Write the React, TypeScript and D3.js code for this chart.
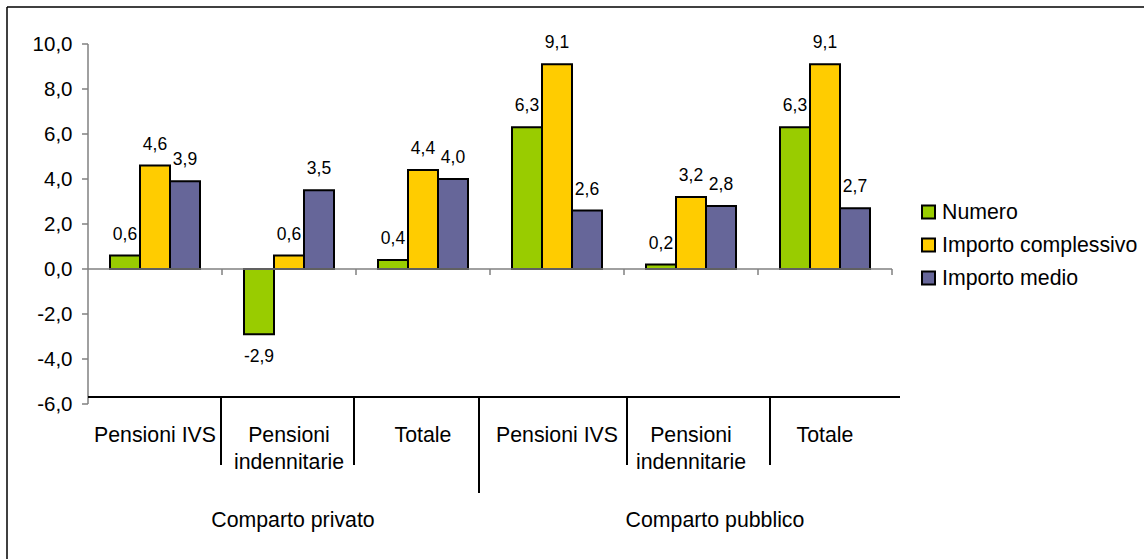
import React from "react";
import * as d3 from "d3";

const categories = ["Pensioni IVS", "Pensioni indennitarie", "Totale", "Pensioni IVS", "Pensioni indennitarie", "Totale"];
const categoryLines = [["Pensioni IVS"], ["Pensioni", "indennitarie"], ["Totale"], ["Pensioni IVS"], ["Pensioni", "indennitarie"], ["Totale"]];
const groups = ["Comparto privato", "Comparto pubblico"];
const seriesNames = ["Numero", "Importo complessivo", "Importo medio"];
const numero = [0.6, -2.9, 0.4, 6.3, 0.2, 6.3];
const importoComplessivo = [4.6, 0.6, 4.4, 9.1, 3.2, 9.1];
const importoMedio = [3.9, 3.5, 4.0, 2.6, 2.8, 2.7];
const yTicks = [-6, -4, -2, 0, 2, 4, 6, 8, 10];

const colors = ["#99CC00", "#FFCC00", "#666699"];
const FONT = "'Liberation Sans', Arial, sans-serif";

// layout of Excel-style multi-level label table
const shortSeparators = [221, 354, 627, 770];
const longSeparators = [479];
const groupCenters = [293, 715];

export default function App() {
  const W = 1144, H = 559;
  const x0 = 88, x1 = 892;
  const y = d3.scaleLinear().domain([-6, 10]).range([404, 44]);
  const x = d3.scaleBand<number>().domain(categories.map((_, i) => i)).range([x0, x1]).padding(0);
  const inner = d3.scaleBand<number>().domain([0, 1, 2]).range([22, x.bandwidth() - 22]).padding(0);
  const series = [numero, importoComplessivo, importoMedio];
  const fmt = (v: number) => v.toFixed(1).replace(".", ",");
  const zero = y(0);

  return (
    <div style={{ position: "absolute", left: 0, top: 0 }}>
      <svg width={W} height={H} style={{ display: "block" }} fontFamily={FONT}>
        <rect x={0} y={0} width={W} height={H} fill="#fff" />
        {/* outer border (top & left visible) */}
        <line x1={7} y1={7} x2={W} y2={7} stroke="#000" strokeWidth={1.5} />
        <line x1={7} y1={7} x2={7} y2={H} stroke="#000" strokeWidth={1.5} />

        {/* y axis */}
        <line x1={x0} y1={y(10)} x2={x0} y2={y(-6)} stroke="#808080" strokeWidth={1.5} />
        {yTicks.map((t) => (
          <g key={t}>
            <line x1={x0 - 6} x2={x0} y1={y(t)} y2={y(t)} stroke="#808080" strokeWidth={1.5} />
            <text x={72.5} y={y(t)} dy="0.35em" textAnchor="end" fontSize={20.5} fill="#000">
              {fmt(t)}
            </text>
          </g>
        ))}

        {/* bars */}
        {series.map((vals, s) =>
          vals.map((v, i) => {
            const bx = (x(i) as number) + (inner(s) as number);
            const top = Math.min(y(v), zero);
            const h = Math.abs(y(v) - zero);
            return (
              <rect key={`${s}-${i}`} x={bx} y={top} width={inner.bandwidth()} height={h}
                fill={colors[s]} stroke="#000" strokeWidth={2} />
            );
          })
        )}

        {/* category axis at zero */}
        <line x1={x0} x2={x1} y1={zero} y2={zero} stroke="#808080" strokeWidth={1.5} />
        {categories.map((_, i) => (
          <line key={i} x1={(x(i) as number) + x.bandwidth()} x2={(x(i) as number) + x.bandwidth()}
            y1={zero} y2={zero + 6} stroke="#808080" strokeWidth={1.5} />
        ))}

        {/* data labels */}
        {series.map((vals, s) =>
          vals.map((v, i) => {
            const cx = (x(i) as number) + (inner(s) as number) + inner.bandwidth() / 2;
            const ly = v >= 0 ? y(v) - 16 : y(v) + 28;
            return (
              <text key={`l${s}-${i}`} x={cx} y={ly} textAnchor="middle" fontSize={17.5} fill="#000">
                {fmt(v)}
              </text>
            );
          })
        )}

        {/* label table */}
        <line x1={x0} x2={900} y1={397} y2={397} stroke="#000" strokeWidth={2} />
        {shortSeparators.map((sx) => (
          <line key={sx} x1={sx} x2={sx} y1={397} y2={465} stroke="#000" strokeWidth={2} />
        ))}
        {longSeparators.map((sx) => (
          <line key={sx} x1={sx} x2={sx} y1={397} y2={493} stroke="#000" strokeWidth={2} />
        ))}
        {categoryLines.map((lines, i) => (
          <text key={`c${i}`} x={(x(i) as number) + x.bandwidth() / 2} y={442} textAnchor="middle" fontSize={21.3} fill="#000">
            {lines.map((ln, k) => (
              <tspan key={k} x={(x(i) as number) + x.bandwidth() / 2} dy={k === 0 ? 0 : 27}>{ln}</tspan>
            ))}
          </text>
        ))}
        {groups.map((g, i) => (
          <text key={g} x={groupCenters[i]} y={527} textAnchor="middle" fontSize={21.3} fill="#000">{g}</text>
        ))}

        {/* legend */}
        {seriesNames.map((n, i) => (
          <g key={n} transform={`translate(922, ${212 + i * 33})`}>
            <rect x={0} y={-6.5} width={13} height={13} fill={colors[i]} stroke="#000" strokeWidth={2} />
            <text x={20} y={0} dy="0.35em" fontSize={21.3} fill="#000">{n}</text>
          </g>
        ))}
      </svg>
    </div>
  );
}
